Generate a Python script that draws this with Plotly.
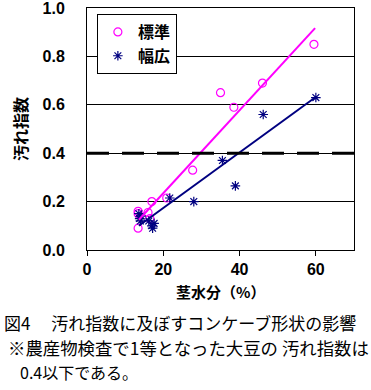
import plotly.graph_objects as go

# 標準 (standard) data
std_x = [59.5, 46.0, 35.0, 38.5, 27.7, 17.0, 20.9, 13.4, 13.4, 16.0, 13.4, 16.5]
std_y = [0.85, 0.69, 0.65, 0.59, 0.33, 0.20, 0.215, 0.16, 0.15, 0.155, 0.09, 0.13]
# 幅広 (wide) data
wide_x = [60.0, 46.2, 35.5, 38.9, 28.0, 21.7, 13.6, 13.8, 14.0, 17.0, 17.2, 17.6, 16.2, 14.2]
wide_y = [0.63, 0.56, 0.37, 0.265, 0.20, 0.215, 0.15, 0.13, 0.12, 0.10, 0.09, 0.11, 0.12, 0.14]
# trend lines
fit_x = [13.6, 59.8]
fit_std = [0.125, 0.917]
fit_wide = [0.10, 0.63]
threshold = 0.4

x_ticks = [0, 20, 40, 60]
y_ticks = [0.0, 0.2, 0.4, 0.6, 0.8, 1.0]
y_tick_text = ["0.0", "0.2", "0.4", "0.6", "0.8", "1.0"]

MAG = "#FF00FF"
NAVY = "#000080"
FONT = "Noto Sans CJK JP"

fig = go.Figure()
fig.add_trace(go.Scatter(x=std_x, y=std_y, mode="markers", name="標準",
                         marker=dict(symbol="circle-open", size=8, color=MAG, line=dict(width=1.2, color=MAG))))
fig.add_trace(go.Scatter(x=wide_x, y=wide_y, mode="markers", name="幅広",
                         marker=dict(symbol="asterisk-open", size=8, color=NAVY, line=dict(width=1.2, color=NAVY))))
fig.add_trace(go.Scatter(x=fit_x, y=fit_std, mode="lines", showlegend=False,
                         line=dict(color=MAG, width=2)))
fig.add_trace(go.Scatter(x=fit_x, y=fit_wide, mode="lines", showlegend=False,
                         line=dict(color=NAVY, width=2)))

fig.add_shape(type="line", xref="paper", x0=0, x1=1, yref="y", y0=threshold, y1=threshold,
              line=dict(color="black", width=3, dash="22px,13px"))

fig.update_layout(
    width=371, height=390,
    margin=dict(l=87, r=17, t=8, b=140),
    paper_bgcolor="white", plot_bgcolor="white",
    font=dict(family=FONT, color="black"),
    legend=dict(x=0.037, y=0.975, xanchor="left", yanchor="top",
                bgcolor="white", bordercolor="black", borderwidth=1,
                font=dict(size=16, weight="bold", family=FONT), tracegroupgap=0,
                itemwidth=30),
    xaxis=dict(range=[0, 70], tickvals=x_ticks, showgrid=False, zeroline=False, automargin=False,
               showline=True, linecolor="black", linewidth=1, mirror=True,
               ticks="outside", ticklen=5, tickcolor="black",
               tickfont=dict(size=16, weight="bold", family="Liberation Sans")),
    yaxis=dict(range=[0, 1.0001], tickvals=y_ticks, ticktext=y_tick_text, automargin=False,
               showgrid=True, gridcolor="black", gridwidth=1, zeroline=False,
               showline=True, linecolor="black", linewidth=1, mirror=True,
               ticks="", ticklabelstandoff=18, ticklabeloverflow="allow",
               tickfont=dict(size=16, weight="bold", family="Liberation Sans")),
)

fig.add_annotation(text="茎水分（%）", xref="paper", yref="paper", x=0.5, y=-0.17,
                   showarrow=False, font=dict(size=15, weight="bold", family=FONT), yanchor="middle")
fig.add_annotation(text="汚れ指数", xref="paper", yref="paper", x=(20 - 87) / 267, y=0.5, textangle=-90,
                   showarrow=False, font=dict(size=16, weight="bold", family=FONT), xanchor="center")

cap = [("図4　 汚れ指数に及ぼすコンケーブ形状の影響", 322, 2, 17),
       ("※農産物検査で1等となった大豆の 汚れ指数は", 347, 6, 17.4),
       ("0.4以下である。", 372, 18, 16)]
for t, yy, xx, fs in cap:
    fig.add_annotation(text=t, xref="paper", yref="paper",
                       x=(xx - 87) / 267, y=(250 - yy) / 242, xanchor="left", yanchor="middle",
                       showarrow=False, font=dict(size=fs, family=FONT))

fig.write_html("out.html", config={"displayModeBar": False},
               post_script="document.body.style.margin='0';")
